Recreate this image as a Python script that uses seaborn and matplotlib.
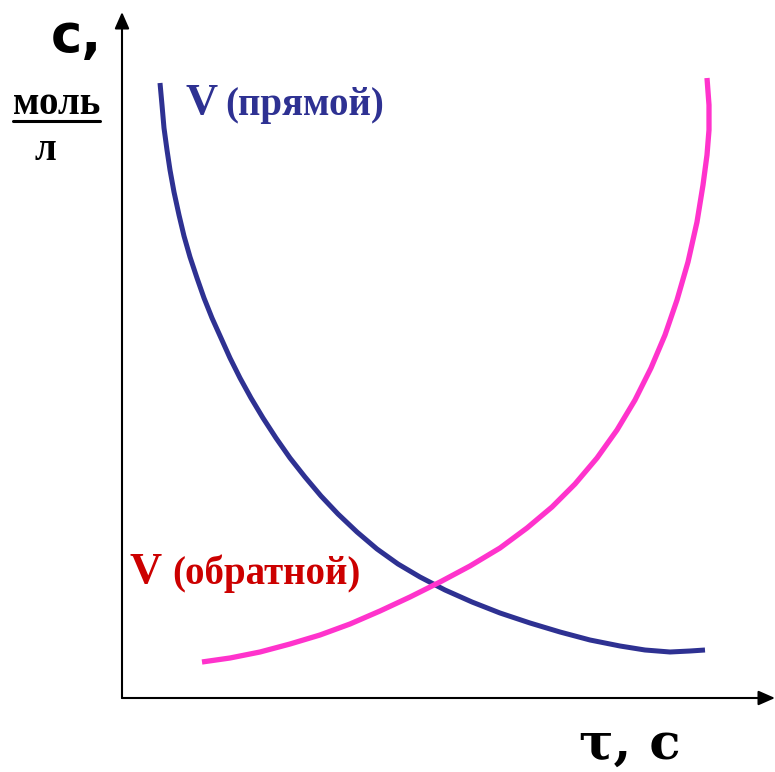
import matplotlib
matplotlib.use("Agg")
import matplotlib.pyplot as plt
import seaborn as sns
import pandas as pd

sns.set_theme(style="white")
plt.rcParams['font.family'] = ['Liberation Serif', 'DejaVu Serif']
plt.rcParams['text.color'] = 'black'

# Data (x = time, y = concentration, arbitrary units)
forward_x = [38, 40, 42, 45, 48, 52, 57, 62, 68, 75, 82, 90, 99, 108, 118, 129, 141, 154, 168, 183,
             199, 216, 235, 255, 276, 298, 323, 350, 378, 408, 438, 468, 498, 523, 548, 568, 583]
forward_y = [615, 593, 570, 548, 528, 506, 483, 462, 441, 420, 400, 380, 360, 340, 320, 300, 280, 260, 240, 221,
             202, 184, 166, 149, 134, 121, 108, 96, 85, 75, 66, 58, 52, 48, 46, 47, 48]
reverse_x = [80, 108, 138, 168, 198, 228, 258, 288, 318, 348, 378, 405, 430, 453, 475, 495, 513, 529,
             543, 555, 566, 575, 581, 585, 587, 587, 585]
reverse_y = [36, 40, 46, 54, 63, 74, 87, 101, 116, 132, 150, 170, 191, 214, 240, 268, 298, 330,
             363, 398, 436, 476, 513, 543, 568, 593, 620]

df_f = pd.DataFrame({"t": forward_x, "c": forward_y})
df_r = pd.DataFrame({"t": reverse_x, "c": reverse_y})

fig = plt.figure(figsize=(7.75, 7.72), dpi=100)
ax = fig.add_axes([0, 0, 1, 1])
ax.set_xlim(-122, 653)
ax.set_ylim(-74, 698)
ax.axis("off")

sns.lineplot(data=df_f, x="t", y="c", ax=ax, color="#2E3192", lw=3.6, sort=False, estimator=None,
             solid_joinstyle="round", solid_capstyle="butt")
sns.lineplot(data=df_r, x="t", y="c", ax=ax, color="#FF33CC", lw=3.8, sort=False, estimator=None,
             solid_joinstyle="round", solid_capstyle="butt")

arrow = dict(arrowstyle="-|>,head_length=0.5,head_width=0.22", color="black", lw=1.5,
             mutation_scale=20, shrinkA=0, shrinkB=0)
ax.annotate("", xy=(0, 686), xytext=(0, 0), arrowprops=arrow)
ax.annotate("", xy=(653, 0), xytext=(0, 0), arrowprops=arrow)

ax.text(-46, 661, "с,", fontsize=38, fontweight="bold", color="black",
        family=["DejaVu Sans"], ha="center", va="center")
ax.text(-65, 594, "моль", fontsize=28, fontweight="bold", color="black", ha="center", va="center")
ax.plot([-109, -22], [577, 577], color="black", lw=2.2)
ax.text(-77, 547, "л", fontsize=28, fontweight="bold", color="black", ha="center", va="center")

ax.text(63, 595, "V", fontsize=32, fontweight="bold", color="#2E3192", ha="left", va="center")
ax.text(103, 593, "(прямой)", fontsize=28, fontweight="bold", color="#2E3192", ha="left", va="center")
ax.text(8, 126, "V", fontsize=32, fontweight="bold", color="#CC0000", ha="left", va="center")
ax.text(50, 124, "(обратной)", fontsize=28, fontweight="bold", color="#CC0000", ha="left", va="center")

ax.text(508, -47, "τ, с", fontsize=37, fontweight="bold", color="black",
        family=["DejaVu Serif"], ha="center", va="center")

fig.savefig("out.png", dpi=100)
